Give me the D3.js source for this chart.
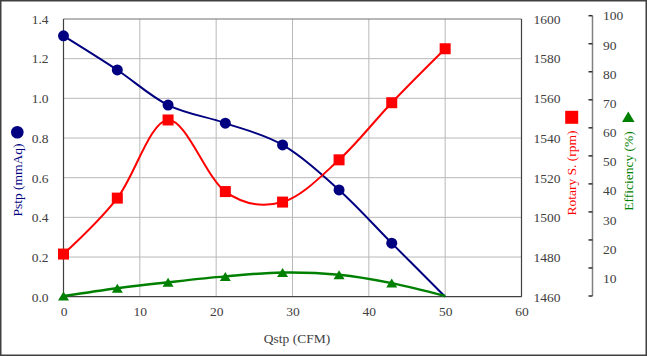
<!DOCTYPE html>
<html>
<head>
<meta charset="utf-8">
<script src="https://cdn.jsdelivr.net/npm/d3@7"></script>
<style>
  html, body { margin: 0; padding: 0; background: #fff; }
  svg { display: block; }
  text { font-family: "Liberation Serif", "Times New Roman", serif; }
</style>
</head>
<body>
<svg id="chart" width="647" height="356"></svg>
<script>
// ---- data ----
const qstp      = [0, 7.05, 13.7, 21.2, 28.7, 36.1, 43.0, 50.0];
const pstp      = [1.315, 1.143, 0.966, 0.875, 0.765, 0.538, 0.270, 0.0];
const rotary    = [1481.5, 1509.7, 1549.1, 1513.0, 1507.7, 1529.0, 1557.8, 1585.0];
const efficiency= [0, 2.8, 4.9, 7.0, 8.4, 7.6, 4.6, 0];

const xTicks    = [0, 10, 20, 30, 40, 50, 60];
const pTicks    = [0, 0.2, 0.4, 0.6, 0.8, 1.0, 1.2, 1.4];
const rTicks    = [1460, 1480, 1500, 1520, 1540, 1560, 1580, 1600];
const eTicks    = [0, 10, 20, 30, 40, 50, 60, 70, 80, 90, 100];
const eLabels   = [10, 20, 30, 40, 50, 60, 70, 80, 90, 100];

const xTitle = "Qstp (CFM)";
const pTitle = "Pstp (mmAq)";
const rTitle = "Rotary S. (rpm)";
const eTitle = "Efficiency (%)";

// ---- layout ----
const W = 647, H = 356;
const L = 63.5, R = 521.5, T = 19, B = 296.7;
const BLUE = "#000080", RED = "#ff0000", GREEN = "#008000";
const TXT = "#404040";

const svg = d3.select("#chart");

const x  = d3.scaleLinear().domain([0, 60]).range([L, R]);
const yP = d3.scaleLinear().domain([0, 1.4]).range([B, T]);
const yR = d3.scaleLinear().domain([1460, 1600]).range([B, T]);
const yE = d3.scaleLinear().domain([0, 100]).range([296, 15.7]);
const yEL = d3.scaleLinear().domain([10, 100]).range([278.3, 15.7]);

// outer frame
svg.append("rect").attr("x", 0.75).attr("y", 0.75).attr("width", W - 1.5).attr("height", H - 1.5)
  .attr("fill", "none").attr("stroke", "#404040").attr("stroke-width", 1.5);

// gridlines
const grid = svg.append("g").attr("stroke", "#b8b8b8").attr("stroke-width", 1);
grid.selectAll("line.h").data(pTicks.filter(d => d > 0 && d < 1.4)).join("line")
  .attr("x1", L).attr("x2", R).attr("y1", d => yP(d)).attr("y2", d => yP(d));
grid.selectAll("line.v").data(xTicks.filter(d => d > 0 && d < 60)).join("line")
  .attr("x1", d => x(d)).attr("x2", d => x(d)).attr("y1", T).attr("y2", B);

// plot frame
svg.append("line").attr("x1", L).attr("x2", R).attr("y1", T).attr("y2", T).attr("stroke", "#707070").attr("stroke-width", 1.2);
svg.append("line").attr("x1", R).attr("x2", R).attr("y1", T).attr("y2", B).attr("stroke", "#404040").attr("stroke-width", 1.2);
svg.append("line").attr("x1", L).attr("x2", L).attr("y1", T).attr("y2", B).attr("stroke", "#404040").attr("stroke-width", 1.2);
svg.append("line").attr("x1", L).attr("x2", R).attr("y1", B).attr("y2", B).attr("stroke", "#404040").attr("stroke-width", 1.2);

// axes via d3 axis generators (labels only, domain hidden)
function styleAxis(g) {
  g.attr("font-family", null);
  g.select(".domain").remove();
  g.selectAll(".tick line").remove();
  g.selectAll("text").attr("fill", TXT).attr("font-size", 13.5);
}
svg.append("g").attr("transform", `translate(${L},0)`)
  .call(d3.axisLeft(yP).tickValues(pTicks).tickFormat(d3.format(".1f")).tickSize(0).tickPadding(15))
  .call(styleAxis);
svg.append("g").attr("transform", `translate(0,${B})`)
  .call(d3.axisBottom(x).tickValues(xTicks).tickFormat(d3.format("d")).tickSize(0).tickPadding(10))
  .call(styleAxis);
svg.append("g").attr("transform", `translate(${R},0)`)
  .call(d3.axisRight(yR).tickValues(rTicks).tickFormat(d3.format("d")).tickSize(0).tickPadding(12))
  .call(styleAxis);

// efficiency axis: line + ticks on the left, labels on the right
const EX = 592.5;
const eAxis = svg.append("g");
eAxis.append("line").attr("x1", EX).attr("x2", EX).attr("y1", yE(100)).attr("y2", yE(0))
  .attr("stroke", "#808080").attr("stroke-width", 1.5);
eAxis.selectAll("line.t").data(eTicks).join("line")
  .attr("x1", EX - 4).attr("x2", EX).attr("y1", d => yE(d)).attr("y2", d => yE(d))
  .attr("stroke", "#303030").attr("stroke-width", 1.5);
eAxis.selectAll("text").data(eLabels).join("text")
  .attr("x", 603).attr("y", d => yEL(d)).attr("dy", "0.35em")
  .attr("fill", TXT).attr("font-size", 13.5).text(d => d);

// series lines
const curve = d3.curveCatmullRom.alpha(0);
const pts = (arr) => qstp.map((q, i) => [q, arr[i]]);

svg.append("path").datum(pts(pstp))
  .attr("d", d3.line().x(d => x(d[0])).y(d => yP(d[1])).curve(curve))
  .attr("fill", "none").attr("stroke", BLUE).attr("stroke-width", 2);
svg.append("path").datum(pts(rotary))
  .attr("d", d3.line().x(d => x(d[0])).y(d => yR(d[1])).curve(curve))
  .attr("fill", "none").attr("stroke", RED).attr("stroke-width", 2);
svg.append("path").datum(pts(efficiency))
  .attr("d", d3.line().x(d => x(d[0])).y(d => yE(d[1])).curve(curve))
  .attr("fill", "none").attr("stroke", GREEN).attr("stroke-width", 2.5);

// markers (the last blue and green points carry no marker in the reference)
const tri = (w, h) => `M0,${-h / 2}L${w / 2},${h / 2}L${-w / 2},${h / 2}Z`;
const n = qstp.length;

svg.append("g").selectAll("circle").data(pts(pstp).slice(0, n - 1)).join("circle")
  .attr("cx", d => x(d[0])).attr("cy", d => yP(d[1])).attr("r", 5.5).attr("fill", BLUE);
svg.append("g").selectAll("rect").data(pts(rotary)).join("rect")
  .attr("x", d => x(d[0]) - 5.5).attr("y", d => yR(d[1]) - 5.5)
  .attr("width", 11).attr("height", 11).attr("fill", RED);
svg.append("g").selectAll("path").data(pts(efficiency).slice(0, n - 1)).join("path")
  .attr("transform", d => `translate(${x(d[0])},${yE(d[1])})`)
  .attr("d", tri(11, 9)).attr("fill", GREEN);

// axis titles with legend markers
svg.append("text").attr("x", W / 2 - 26.5).attr("y", 338).attr("dy", "0.35em")
  .attr("text-anchor", "middle").attr("fill", TXT).attr("font-size", 13.5).text(xTitle);

svg.append("circle").attr("cx", 17.3).attr("cy", 132.3).attr("r", 6.3).attr("fill", BLUE);
svg.append("text").attr("transform", "translate(17.3,180) rotate(-90)").attr("dy", "0.35em")
  .attr("text-anchor", "middle").attr("fill", BLUE).attr("font-size", 13.5).text(pTitle);

svg.append("rect").attr("x", 571.7 - 6.5).attr("y", 117.3 - 6.5).attr("width", 13).attr("height", 13).attr("fill", RED);
svg.append("text").attr("transform", "translate(571.7,173) rotate(-90)").attr("dy", "0.35em")
  .attr("text-anchor", "middle").attr("fill", RED).attr("font-size", 13.5).text(rTitle);

svg.append("path").attr("transform", "translate(628.3,116.7)").attr("d", tri(12.5, 10.5)).attr("fill", GREEN);
svg.append("text").attr("transform", "translate(628.3,171) rotate(-90)").attr("dy", "0.35em")
  .attr("text-anchor", "middle").attr("fill", GREEN).attr("font-size", 13.5).text(eTitle);
</script>
</body>
</html>
